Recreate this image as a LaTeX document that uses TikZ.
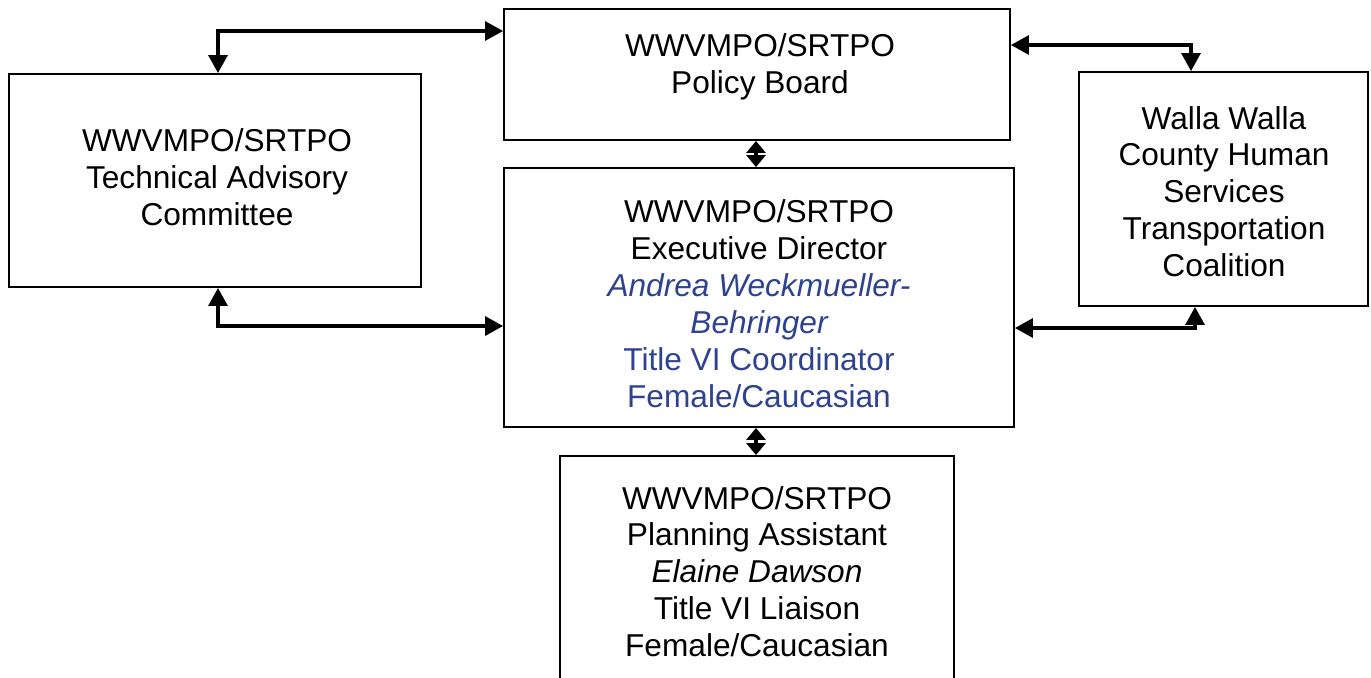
\documentclass[tikz,border=0pt]{standalone}
\usepackage{fontspec}
\setmainfont{Liberation Sans}
\usepackage{xcolor}
\usepackage{tikz}
\usetikzlibrary{arrows.meta}
\definecolor{AzulNombre}{RGB}{46,66,145}

\begin{document}
\begin{tikzpicture}[x=0.02cm,y=-0.02cm,
    caja/.style={draw,line width=1.1pt,inner sep=0pt},
    texto/.style={align=center,font=\fontsize{18}{21}\selectfont,inner sep=0pt},
    enlace/.style={{Triangle[length=0.36cm,width=0.38cm]}-{Triangle[length=0.36cm,width=0.38cm]},line width=1.8pt},
    corto/.style={{Triangle[length=0.24cm,width=0.38cm]}-{Triangle[length=0.24cm,width=0.38cm]},line width=1.8pt}]
  \useasboundingbox (0,0) rectangle (1371,677);

  \node[caja,minimum width=10.12cm,minimum height=2.62cm] (junta) at (757,74.5) {};
  \node[texto] (junta-txt) at (760,66.5) {WWVMPO/SRTPO\\Policy Board};

  \node[caja,minimum width=8.24cm,minimum height=4.26cm] (comite) at (215,180.5) {};
  \node[texto] (comite-txt) at (217,177.5) {WWVMPO/SRTPO\\Technical Advisory\\Committee};

  \node[caja,minimum width=10.2cm,minimum height=5.18cm] (director) at (759,297.5) {};
  \node[texto] (director-txt) at (759,303.5) {WWVMPO/SRTPO\\Executive Director\\
    \color{AzulNombre}\itshape Andrea Weckmueller-\\\color{AzulNombre}\itshape Behringer\\
    \color{AzulNombre}Title VI Coordinator\\\color{AzulNombre}Female/Caucasian};

  \node[caja,minimum width=5.78cm,minimum height=4.68cm] (coalicion) at (1223.5,189) {};
  \node[texto] (coalicion-txt) at (1224,191.5) {Walla Walla\\County Human\\Services\\Transportation\\Coalition};

  \node[caja,minimum width=7.88cm,minimum height=4.62cm] (asistente) at (757,571.5) {};
  \node[texto] (asistente-txt) at (757,571.5) {WWVMPO/SRTPO\\Planning Assistant\\
    \itshape Elaine Dawson\\Title VI Liaison\\Female/Caucasian};

  \coordinate (c1) at (218,31);
  \coordinate (c2) at (218,326);
  \coordinate (c3) at (1191,45);
  \coordinate (c4) at (1195,328);
  \coordinate (eje) at (756,0);

  \draw[enlace] (comite.north -| c1) |- (junta.west |- c1);
  \draw[enlace] (comite.south -| c2) |- (director.west |- c2);
  \draw[enlace] (junta.east |- c3) -| (coalicion.north -| c3);
  \draw[enlace] (director.east |- c4) -| (coalicion.south -| c4);
  \draw[corto] (junta.south -| eje) -- (director.north -| eje);
  \draw[corto] (director.south -| eje) -- (asistente.north -| eje);
\end{tikzpicture}
\end{document}
